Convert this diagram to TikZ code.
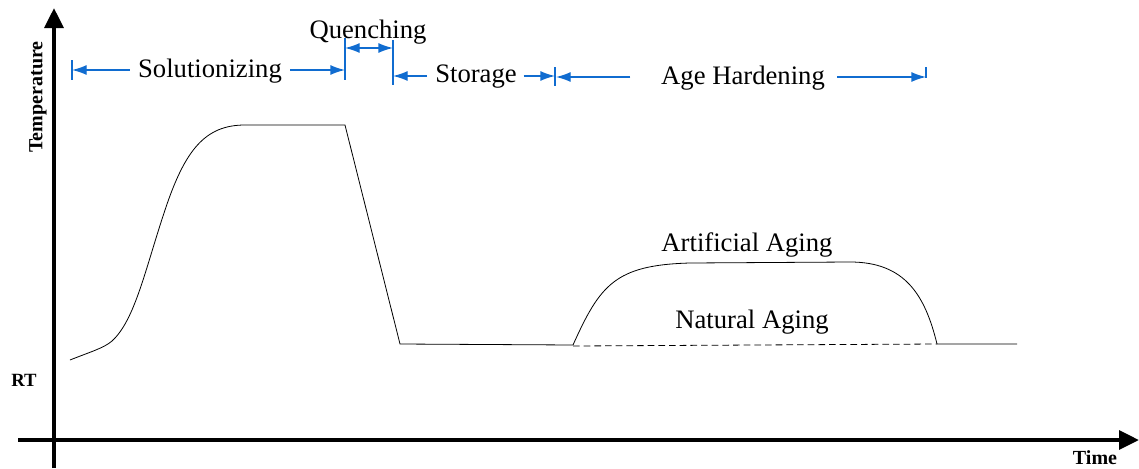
\documentclass[tikz,border=0pt]{standalone}
\usepackage{fontspec}
\setmainfont{Liberation Serif}
\usetikzlibrary{arrows.meta,calc}
\definecolor{dimblue}{RGB}{16,108,208}
\def\axwidth{3pt}

\begin{document}
\begin{tikzpicture}[x=0.75pt,y=-0.75pt]
            \tikzstyle{axis}=[line width=\axwidth,-{Triangle[length=15pt,width=14pt]}]
            \tikzstyle{dim}=[draw=dimblue,line width=1pt,-{Latex[length=11pt,width=7.5pt]}]
            \tikzstyle{tick}=[draw=dimblue,line width=1pt]
            \tikzstyle{phase}=[font=\fontsize{20}{24}\selectfont,inner sep=2pt]
            \tikzstyle{axlabel}=[font=\bfseries\fontsize{15}{18}\selectfont,inner sep=0pt]

            \useasboundingbox (0,0) rectangle (1139,468);

            % Axes
            \coordinate (Y0) at (54,468);
            \coordinate (Y1) at (54,8);
            \coordinate (X0) at (18,440);
            \coordinate (X1) at (1139,440);
            \draw[axis] (Y0) -- (Y1);
            \draw[axis] (X0) -- (X1);

            \node[axlabel, rotate=90] (TEMP) at (38,97) {Temperature};
            \node[axlabel, font=\bfseries\fontsize{14}{16}\selectfont] (RT) at (24,380) {RT};
            \node[axlabel] (TIME) at (1095,458) {Time};

            % Heat treatment curve
            \draw[line width=0.6pt] (70,360) .. controls (90,352) and (104,348) .. (112,341)
                .. controls (135,320) and (145,270) .. (165,210)
                .. controls (185,150) and (205,125) .. (245,125)
                -- (345,125) -- (400,344) -- (573,345)
                .. controls (600,285) and (615,265) .. (690,263)
                -- (850,262)
                .. controls (905,262) and (925,295) .. (937,344)
                -- (1017,344);
            \draw[line width=0.6pt, dashed, dash pattern=on 5pt off 3pt] (573,346) -- (937,344);

            \node[phase] (ART) at (747,245) {Artificial Aging};
            \node[phase] (NAT) at (752,322) {Natural Aging};

            % Phase ticks
            \coordinate (S0) at (72,70);
            \coordinate (S1) at (345,70);
            \coordinate (Q0) at (345,48);
            \coordinate (Q1) at (393,48);
            \coordinate (T0) at (393,76);
            \coordinate (T1) at (555,76);
            \coordinate (A0) at (556,77);
            \coordinate (A1) at (926,77);
            \draw[tick] (72,60) -- (72,80);
            \draw[tick] (345,38) -- (345,80);
            \draw[tick] (393,40) -- (393,85);
            \draw[tick] (555,67) -- (555,86);
            \draw[tick] (926,67) -- (926,78);

            % Phase labels with dimension arrows
            \node[phase] (SOL) at (210,71) {Solutionizing};
            \node[phase] (QUE) at (368,32) {Quenching};
            \node[phase] (STO) at (476,77) {Storage};
            \node[phase] (AGE) at (743,78) {Age Hardening};

            \draw[dim] ([xshift=-4pt]SOL.west |- S0) -- (S0);
            \draw[dim] ([xshift=4pt]SOL.east |- S1) -- (S1);
            \draw[dim,{Latex[length=11pt,width=7.5pt]}-] (Q0) -- ($(Q0)!0.5!(Q1)$);
            \draw[dim] ($(Q0)!0.5!(Q1)$) -- (Q1);
            \draw[dim] ([xshift=-4pt]STO.west |- T0) -- (T0);
            \draw[dim] ([xshift=3pt]STO.east |- T1) -- (T1);
            \draw[dim] ([xshift=-21pt]AGE.west |- A0) -- (A0);
            \draw[dim] ([xshift=7pt]AGE.east |- A1) -- (A1);
        \end{tikzpicture}
\end{document}
